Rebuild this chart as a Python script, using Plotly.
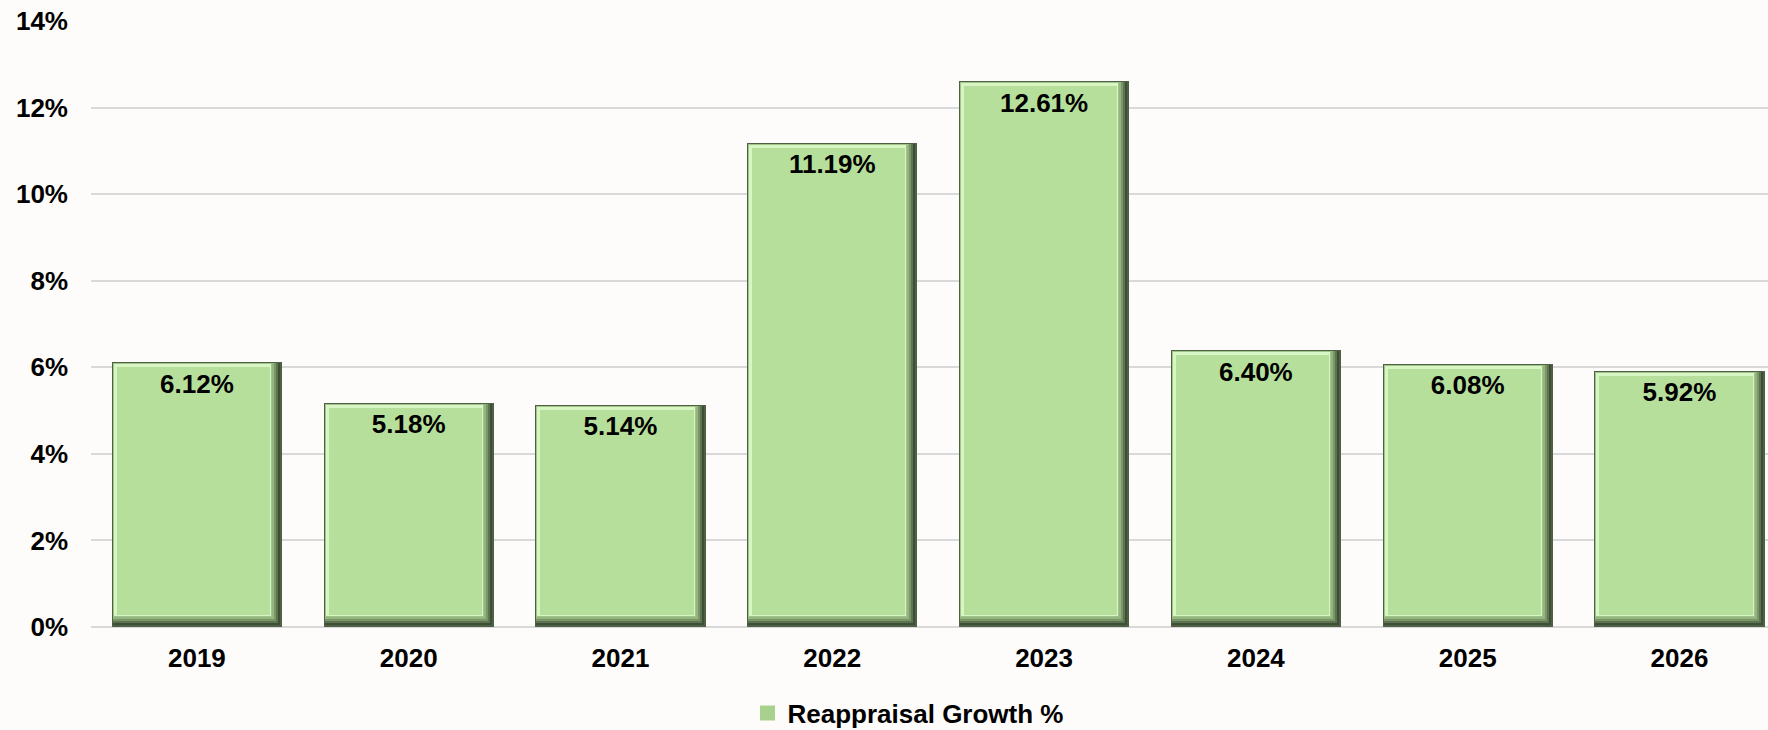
import plotly.graph_objects as go

categories = ["2019", "2020", "2021", "2022", "2023", "2024", "2025", "2026"]
values = [6.12, 5.18, 5.14, 11.19, 12.61, 6.40, 6.08, 5.92]
labels = ["6.12%", "5.18%", "5.14%", "11.19%", "12.61%", "6.40%", "6.08%", "5.92%"]
series_name = "Reappraisal Growth %"
y_ticks = [0, 2, 4, 6, 8, 10, 12, 14]
y_tick_text = ["0%", "2%", "4%", "6%", "8%", "10%", "12%", "14%"]

W, H = 1768, 730
ML, MR, MT, MB = 91, 0, 21, 103
Y_MAX = 14
X_LO, X_HI = -0.5, 7.418
plot_w = W - ML - MR
plot_h = H - MT - MB
XPX = plot_w / (X_HI - X_LO)   # px per category unit
YPX = plot_h / Y_MAX           # px per percent unit
BAR_W = 0.803
LABEL_DROP_PX = 24

FONT = "Arial, 'Liberation Sans', sans-serif"

# bevel layers: (left inset, right inset, top inset, bottom inset, colour) in px
layers = [
    (0, 0, 0, 0, "#4f6144"),
    (1, 2, 1, 2, "#3f4e36"),
    (1, 4, 1, 4, "#5d7450"),
    (1, 6, 1, 6, "#7a9566"),
    (1, 8, 1, 8, "#95b580"),
    (1, 10, 1, 10, "#9fc389"),
    (2, 11, 2, 11, "#d7f6c3"),
    (5, 12, 5, 12, "#b7df9c"),
]

fig = go.Figure()
for i, (li, ri, ti, bi, col) in enumerate(layers):
    w = BAR_W - (li + ri) / XPX
    off = -BAR_W / 2 + li / XPX
    base = bi / YPX
    ys = [v - (ti + bi) / YPX for v in values]
    fig.add_trace(go.Bar(
        x=categories, y=ys, base=[base] * len(values),
        width=[w] * len(values), offset=[off] * len(values),
        marker=dict(color=col, line=dict(width=0)),
        showlegend=False, hoverinfo="skip",
    ))

# legend entry
fig.add_trace(go.Scatter(
    x=[None], y=[None], name=series_name, mode="markers",
    marker=dict(symbol="square", size=15, color="#a9d18e", line=dict(width=0)),
    showlegend=True,
))

# value labels inside the top of each bar
fig.add_trace(go.Scatter(
    x=categories, y=[v - LABEL_DROP_PX / YPX for v in values],
    text=labels, mode="text", textposition="middle center",
    textfont=dict(family=FONT, size=26, color="#000000", weight="bold"),
    showlegend=False, hoverinfo="skip", cliponaxis=False,
))

fig.update_layout(
    width=W, height=H,
    margin=dict(l=ML, r=MR, t=MT, b=MB, pad=0),
    paper_bgcolor="#fdfcfa",
    plot_bgcolor="rgba(0,0,0,0)",
    barmode="overlay",
    bargap=0,
    font=dict(family=FONT, size=26, color="#000000"),
    legend=dict(
        orientation="h", xref="container", yref="container",
        x=908 / W, xanchor="center", y=1 - 713 / H, yanchor="middle",
        font=dict(family=FONT, size=26, color="#000000", weight="bold"),
        bgcolor="rgba(0,0,0,0)", itemwidth=30,
    ),
    showlegend=True,
)

fig.update_xaxes(
    type="category", range=[X_LO, X_HI],
    showgrid=False, showline=False, zeroline=False,
    ticks="", ticklabelstandoff=13,
    tickfont=dict(family=FONT, size=26, color="#000000", weight="bold"),
    fixedrange=True,
)
fig.update_yaxes(
    range=[0, Y_MAX * 1.0001], tickmode="array", tickvals=y_ticks, ticktext=y_tick_text,
    showgrid=True, gridcolor="#d9d9d9", gridwidth=2,
    zeroline=True, zerolinecolor="#d9d9d9", zerolinewidth=2,
    showline=False, ticks="", ticklabelstandoff=22,
    tickfont=dict(family=FONT, size=26, color="#000000", weight="bold"),
    fixedrange=True,
)

fig.write_html(
    "out.html",
    config={"displayModeBar": False},
    post_script="document.body.style.margin='0';document.body.style.background='#fdfcfa';",
)
